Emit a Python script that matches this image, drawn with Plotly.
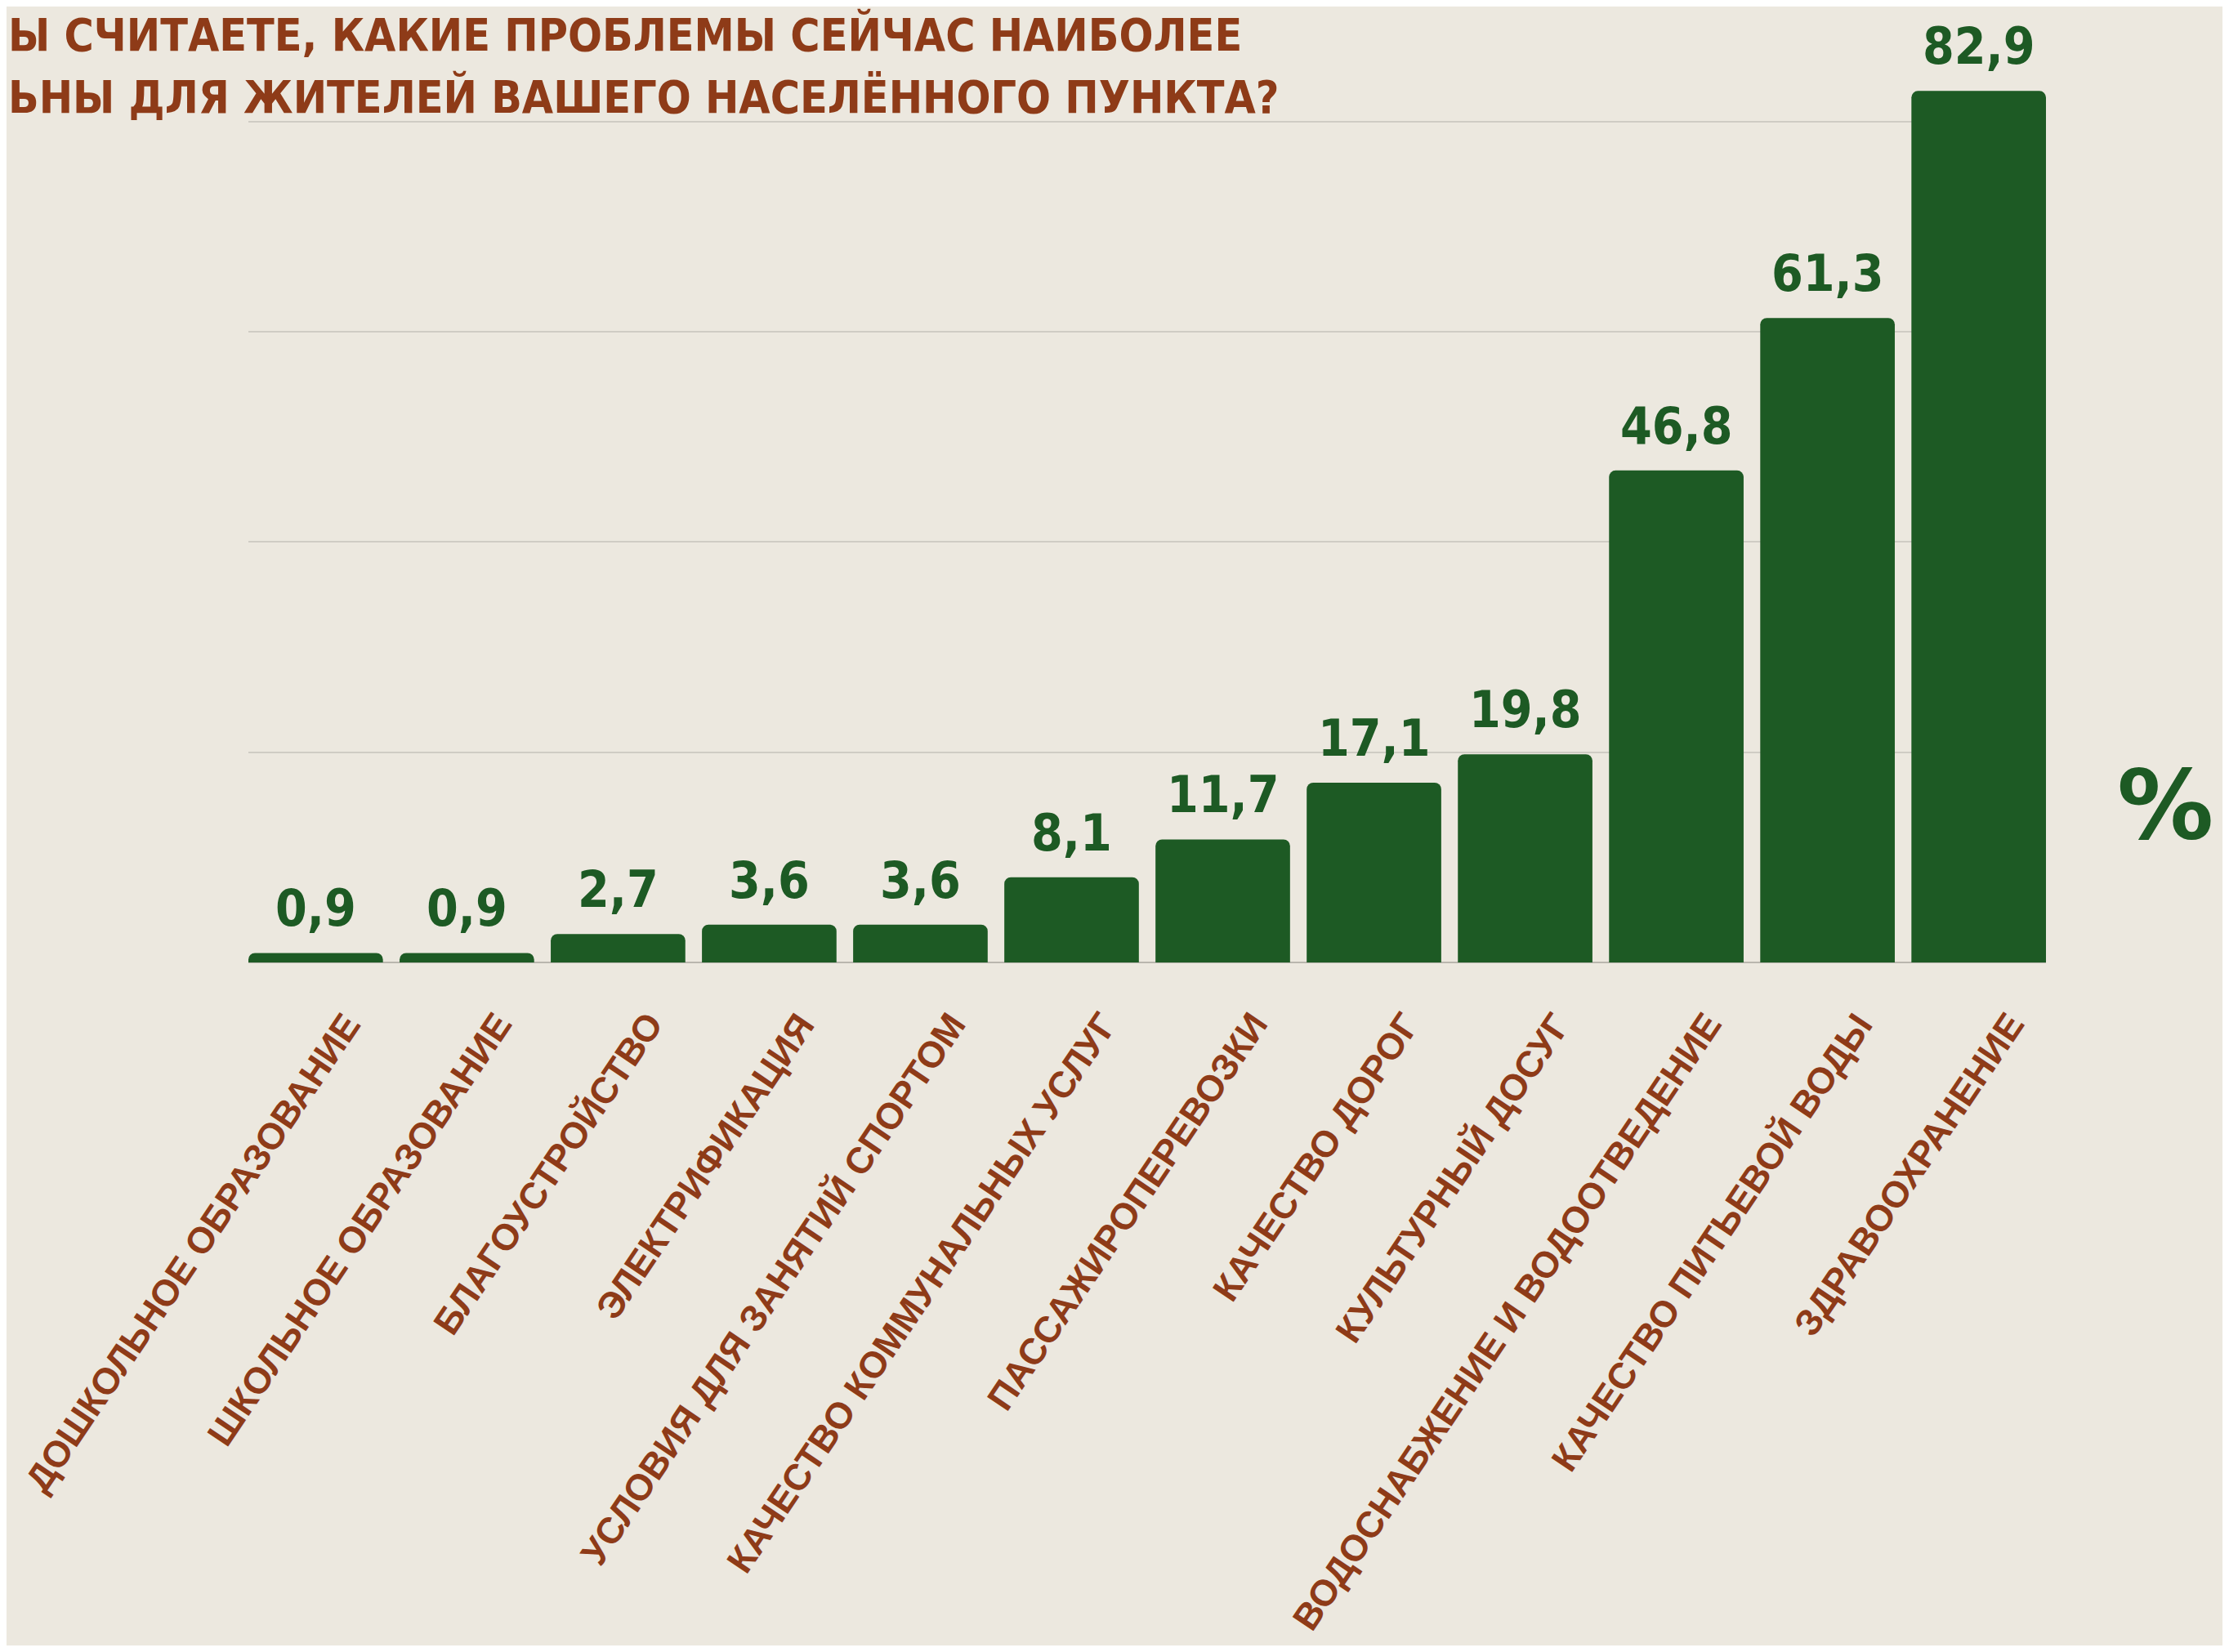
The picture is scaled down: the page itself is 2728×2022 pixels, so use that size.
import plotly.graph_objects as go

categories = [
    "ДОШКОЛЬНОЕ ОБРАЗОВАНИЕ",
    "ШКОЛЬНОЕ ОБРАЗОВАНИЕ",
    "БЛАГОУСТРОЙСТВО",
    "ЭЛЕКТРИФИКАЦИЯ",
    "УСЛОВИЯ ДЛЯ ЗАНЯТИЙ СПОРТОМ",
    "КАЧЕСТВО КОММУНАЛЬНЫХ УСЛУГ",
    "ПАССАЖИРОПЕРЕВОЗКИ",
    "КАЧЕСТВО ДОРОГ",
    "КУЛЬТУРНЫЙ ДОСУГ",
    "ВОДОСНАБЖЕНИЕ И ВОДООТВЕДЕНИЕ",
    "КАЧЕСТВО ПИТЬЕВОЙ ВОДЫ",
    "ЗДРАВООХРАНЕНИЕ",
]
values = [0.9, 0.9, 2.7, 3.6, 3.6, 8.1, 11.7, 17.1, 19.8, 46.8, 61.3, 82.9]
value_labels = [f"{v:.1f}".replace(".", ",") for v in values]

title_lines = [
    "Ы СЧИТАЕТЕ, КАКИЕ ПРОБЛЕМЫ СЕЙЧАС НАИБОЛЕЕ",
    "ЬНЫ ДЛЯ ЖИТЕЛЕЙ ВАШЕГО НАСЕЛЁННОГО ПУНКТА?",
]

BAR = "#1d5a24"
BROWN = "#8e3b18"
BG = "#ece8df"

# page body has an 8px margin; size the figure so the page fills the window
OFF = 8
W, H = 2728 - 2 * OFF, 2022 - 2 * OFF
# plot area in absolute window pixels
PL, PR, PT, PB = 304, 2504, 20, 1178
ML, MR, MT, MB = PL - OFF, W - (PR - OFF), PT - OFF, H - (PB - OFF)
plot_w = W - ML - MR
plot_h = H - MT - MB

GAP = 0.11

fig = go.Figure(
    go.Bar(
        x=categories,
        y=values,
        marker=dict(color=BAR, cornerradius=8, line=dict(width=0)),
        hoverinfo="skip",
    )
)

# value labels above bars
for c, v, t in zip(categories, values, value_labels):
    fig.add_annotation(
        x=c, y=v, xref="x", yref="y", text=t, showarrow=False,
        yanchor="bottom", yshift=16,
        font=dict(family="Liberation Sans Narrow, DejaVu Sans Condensed, sans-serif",
                  size=62, color=BAR, weight="bold"),
    )

# rotated category labels below the baseline
for c in categories:
    fig.add_annotation(
        x=c, y=0, xref="x", yref="y", text=c, showarrow=False,
        textangle=-56, xanchor="right", yanchor="top",
        xshift=68, yshift=-50,
        font=dict(family="Liberation Sans, Arial, sans-serif", size=45,
                  color=BROWN, weight="bold"),
    )


def px_x(px):
    return (px - OFF - ML) / plot_w


def px_y(py):
    return (H - MB - (py - OFF)) / plot_h


TITLE_FONT = dict(family="Liberation Sans Narrow, DejaVu Sans Condensed, sans-serif",
                  size=55, color=BROWN, weight="bold")
fig.add_annotation(
    x=px_x(OFF), y=px_y(OFF), xref="paper", yref="paper", text=title_lines[0],
    showarrow=False, xanchor="left", yanchor="top", font=TITLE_FONT,
)
fig.add_annotation(
    x=px_x(OFF), y=px_y(84), xref="paper", yref="paper", text=title_lines[1],
    showarrow=False, xanchor="left", yanchor="top", font=TITLE_FONT,
)
fig.add_annotation(
    x=px_x(2650), y=px_y(985), xref="paper", yref="paper", text="%",
    showarrow=False, xanchor="center", yanchor="middle",
    font=dict(family="DejaVu Sans, sans-serif", size=118, color=BAR, weight="bold"),
)

fig.update_layout(
    width=W, height=H,
    margin=dict(l=ML, r=MR, t=MT, b=MB, autoexpand=False),
    paper_bgcolor=BG, plot_bgcolor=BG,
    bargap=GAP,
    showlegend=False,
    xaxis=dict(
        range=[-0.5 + GAP / 2, len(categories) - 0.5 - GAP / 2],
        automargin=False, showticklabels=False,
        showgrid=False, showline=False, ticks="",
    ),
    yaxis=dict(
        range=[0, 90], dtick=20, showticklabels=False, automargin=False,
        showgrid=True, gridcolor="#cfccc4", gridwidth=2,
        zeroline=True, zerolinecolor="#b9b6ae", zerolinewidth=2,
    ),
)

fig.write_html("out.html")
